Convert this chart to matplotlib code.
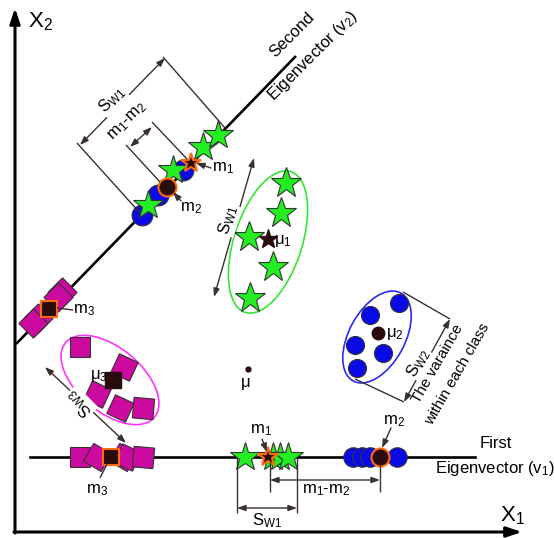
import matplotlib
matplotlib.use("Agg")
import matplotlib.pyplot as plt
from matplotlib.patches import Ellipse

plt.rcParams['font.family'] = ['Liberation Sans', 'DejaVu Sans']
plt.rcParams['mathtext.fontset'] = 'custom'
plt.rcParams['mathtext.rm'] = 'Liberation Sans'
plt.rcParams['mathtext.it'] = 'Liberation Sans:italic'
plt.rcParams['mathtext.default'] = 'rm'

# ---------------- data (diagram coordinates, pixel-like units) ----------------
# class 1 (green stars) in 2D
c1_x = [286, 281, 249, 273, 250]
c1_y = [183, 213, 237, 267, 298]
mu1 = (268, 239)
# class 2 (blue circles) in 2D
c2_x = [399, 370, 355, 383, 357]
c2_y = [303, 315, 345, 353, 368]
mu2 = (378, 333)
# class 3 (magenta squares) in 2D
c3_x = [80, 124, 97, 120, 143]
c3_y = [347, 367, 394, 408, 408]
c3_rot = [45, 20, 20, 20, 40]
mu3 = (113, 380)
mu = (248, 369)

# projections onto first eigenvector (y = 457)
v1_y = 457
p1_c1_x = [245, 273, 280, 288]
p1_m1 = 268
p1_c2_x = [353, 362, 370, 397]
p1_m2 = 380
p1_c3_x = [80, 97, 123, 127, 143]
p1_c3_rot = [45, 15, 15, 20, 40]
p1_m3 = 111

# projections onto second eigenvector
p2_c2_x = [142, 158, 183]
p2_c2_y = [215, 195, 170]
p2_c1_x = [148, 173, 203, 218]
p2_c1_y = [205, 170, 147, 135]
p2_m1 = (191, 163)
p2_m2 = (167, 187)
p2_c3_x = [62, 58, 38, 33]
p2_c3_y = [292, 297, 318, 323]
p2_m3 = (49, 309)

# ---------------- figure ----------------
fig = plt.figure(figsize=(5.54, 5.38), dpi=100)
ax = fig.add_axes([0, 0, 1, 1])
ax.set_xlim(0, 554)
ax.set_ylim(538, 0)
ax.axis('off')

GREEN = '#22ee22'
BLUE = '#0a0ae6'
MAG = '#cc0aa0'
DARK = '#2a0c0c'
ORANGE = '#ff6a10'
EDGE = '#333333'
LINE = '#3a3030'
FS = 12

def darrow(p, q, lw=1.0):
    ax.annotate('', xy=q, xytext=p,
                arrowprops=dict(arrowstyle='<|-|>,head_length=0.5,head_width=0.18',
                                color=LINE, lw=lw, shrinkA=0, shrinkB=0))

def sarrow(p, q, lw=1.0):
    ax.annotate('', xy=q, xytext=p,
                arrowprops=dict(arrowstyle='-|>,head_length=0.5,head_width=0.18',
                                color=LINE, lw=lw, shrinkA=0, shrinkB=0))

def seg(p, q, lw=1.0, color=LINE):
    ax.plot([p[0], q[0]], [p[1], q[1]], color=color, lw=lw, solid_capstyle='butt')

# axes arrows
ax.annotate('', xy=(15, 8), xytext=(15, 533),
            arrowprops=dict(arrowstyle='-|>,head_length=0.9,head_width=0.3', color='black', lw=2.2, shrinkA=0, shrinkB=0))
ax.annotate('', xy=(522, 532), xytext=(14, 532),
            arrowprops=dict(arrowstyle='-|>,head_length=0.9,head_width=0.3', color='black', lw=2.2, shrinkA=0, shrinkB=0))
ax.text(28, 22, 'X$_2$', fontsize=16, ha='left', va='center')
ax.text(500, 516, 'X$_1$', fontsize=16, ha='left', va='center')

# eigenvector lines
ax.plot([30, 475], [v1_y, v1_y], color='black', lw=1.9)
ax.plot([17, 295], [343, 57], color='black', lw=1.9)
ax.text(480, 443, 'First', fontsize=FS, ha='left', va='center')
ax.text(435, 468, 'Eigenvector (v$_1$)', fontsize=FS, ha='left', va='center')
ax.text(292, 35, 'Second', fontsize=FS, ha='center', va='center', rotation=45, rotation_mode='anchor')
ax.text(313, 56, 'Eigenvector (v$_2$)', fontsize=FS, ha='center', va='center', rotation=45, rotation_mode='anchor')

# ellipses
ax.add_patch(Ellipse((268, 242), 148, 68, angle=-72, fill=False, ec='#33e633', lw=1.2))
ax.add_patch(Ellipse((377, 337), 100, 56, angle=-61.6, fill=False, ec='#2a2aee', lw=1.2))
ax.add_patch(Ellipse((110, 380), 116, 64, angle=40, fill=False, ec='#ff33ff', lw=1.2))

# class 1 (stars)
ax.plot(c1_x, c1_y, ls='none', marker='*', ms=23, mfc=GREEN, mec=EDGE, mew=0.8)
ax.plot(*mu1, marker='*', ms=14, mfc=DARK, mec=DARK)
ax.text(mu1[0] + 6, mu1[1] + 2, 'μ$_1$', fontsize=FS, ha='left', va='center')
darrow((214, 297), (254, 158))
ax.text(228, 220, 'S$_{\\mathrm{W1}}$', fontsize=FS, ha='center', va='center', rotation=74,
        bbox=dict(fc='white', ec='none', pad=0.5))

# class 2 (circles)
ax.plot(c2_x, c2_y, ls='none', marker='o', ms=13, mfc=BLUE, mec=EDGE, mew=0.8)
ax.plot(*mu2, marker='o', ms=9, mfc=DARK, mec=DARK)
ax.text(mu2[0] + 8, mu2[1] + 1, 'μ$_2$', fontsize=FS, ha='left', va='center')
seg((403, 292), (450, 319))
seg((355, 379), (404, 402))
darrow((404, 402), (450, 319))
ax.text(418, 363, 'S$_{\\mathrm{W2}}$', fontsize=FS, ha='center', va='center', rotation=60,
        bbox=dict(fc='white', ec='none', pad=0.5))
ax.text(438, 364, 'The varaince', fontsize=11, ha='center', va='center', rotation=60)
ax.text(457, 374, 'within each class', fontsize=11, ha='center', va='center', rotation=60)

# class 3 (squares)
for x, y, r in zip(c3_x, c3_y, c3_rot):
    ax.plot(x, y, marker=(4, 0, r), ms=21, mfc=MAG, mec=EDGE, mew=0.8)
ax.plot(*mu3, marker='s', ms=11, mfc=DARK, mec=DARK)
ax.text(mu3[0] - 5, mu3[1] - 4, 'μ$_3$', fontsize=FS, ha='right', va='center')
darrow((45, 367), (126, 443))
ax.text(80, 403, 'S$_{\\mathrm{W3}}$', fontsize=FS, ha='center', va='center', rotation=135,
        bbox=dict(fc='white', ec='none', pad=0.5))

# global mean
ax.plot(*mu, marker='o', ms=3.5, color=DARK)
ax.text(mu[0] - 2, mu[1] + 14, 'μ', fontsize=FS, ha='center', va='center')

# ---- projections on first eigenvector ----
for x, r in zip(p1_c3_x, p1_c3_rot):
    ax.plot(x, v1_y, marker=(4, 0, r), ms=21, mfc=MAG, mec=EDGE, mew=0.8)
ax.plot(p1_m3, v1_y, marker='s', ms=12, mfc=DARK, mec=ORANGE, mew=1.5)
ax.text(97, 490, 'm$_3$', fontsize=FS, ha='center', va='center')
seg((100, 478), (107, 464))

ax.plot(p1_c1_x, [v1_y] * len(p1_c1_x), ls='none', marker='*', ms=22, mfc=GREEN, mec=EDGE, mew=0.8)
ax.plot(p1_m1, v1_y, marker='*', ms=15, mfc=DARK, mec=ORANGE, mew=1.5)
ax.text(261, 430, 'm$_1$', fontsize=FS, ha='center', va='center')
sarrow((262, 439), (267, 452))

ax.plot(p1_c2_x, [v1_y] * len(p1_c2_x), ls='none', marker='o', ms=14, mfc=BLUE, mec=EDGE, mew=0.8)
ax.plot(p1_m2, v1_y, marker='o', ms=13, mfc=DARK, mec=ORANGE, mew=1.5)
ax.text(394, 421, 'm$_2$', fontsize=FS, ha='center', va='center')
sarrow((391, 428), (382, 448))

seg((237, 457), (237, 513))
seg((297, 457), (297, 513))
darrow((237, 508), (297, 508))
ax.text(267, 521, 'S$_{\\mathrm{W1}}$', fontsize=FS, ha='center', va='center')
seg((270, 462), (270, 492))
seg((380, 465), (380, 492))
darrow((270, 480), (380, 480))
ax.text(326, 490, 'm$_1$-m$_2$', fontsize=FS, ha='center', va='center')

# ---- projections on second eigenvector ----
for x, y in zip(p2_c3_x, p2_c3_y):
    ax.plot(x, y, marker=(4, 0, 0), ms=21, mfc=MAG, mec=EDGE, mew=0.8)
ax.plot(*p2_m3, marker='s', ms=12, mfc=DARK, mec=ORANGE, mew=1.5)
ax.text(73, 310, 'm$_3$', fontsize=FS, ha='left', va='center')
seg((73, 310), (57, 308))

ax.plot(p2_c2_x, p2_c2_y, ls='none', marker='o', ms=15, mfc=BLUE, mec=EDGE, mew=0.8)
ax.plot(p2_c1_x, p2_c1_y, ls='none', marker='*', ms=22, mfc=GREEN, mec=EDGE, mew=0.8)
ax.plot(*p2_m2, marker='o', ms=13, mfc=DARK, mec=ORANGE, mew=1.5)
ax.plot(*p2_m1, marker='*', ms=15, mfc=DARK, mec=ORANGE, mew=1.5)
ax.text(212, 168, 'm$_1$', fontsize=FS, ha='left', va='center')
sarrow((211, 168), (196, 163))
ax.text(180, 208, 'm$_2$', fontsize=FS, ha='left', va='center')
sarrow((181, 201), (173, 192))

seg((225, 128), (163, 57))
seg((140, 213), (77, 143))
darrow((80, 145), (165, 58))
ax.text(112, 100, 'S$_{\\mathrm{W1}}$', fontsize=FS, ha='center', va='center', rotation=45,
        bbox=dict(fc='white', ec='none', pad=0.5))
seg((187, 159), (152, 122))
seg((160, 182), (126, 145))
darrow((130, 147), (152, 127))
ax.text(128, 121, 'm$_1$-m$_2$', fontsize=FS, ha='center', va='center', rotation=45)

fig.savefig('out.png', dpi=100)
